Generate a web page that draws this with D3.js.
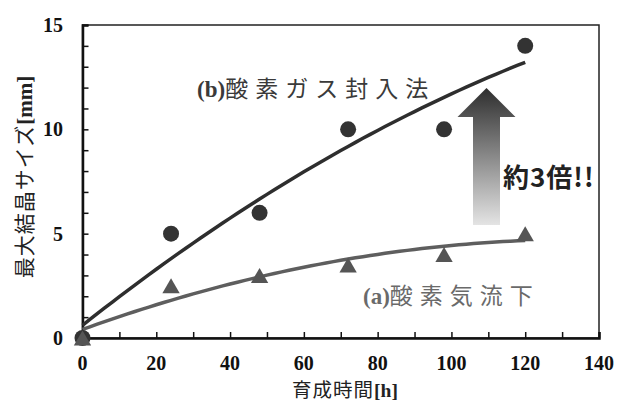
<!DOCTYPE html>
<html>
<head>
<meta charset="utf-8">
<script src="https://cdn.jsdelivr.net/npm/d3@7"></script>
<style>
  html, body { margin: 0; padding: 0; background: #fff; }
  svg { display: block; }
</style>
</head>
<body>
<svg id="chart" width="617" height="401"></svg>
<script>
// Growth time [h] and maximum crystal size [mm]
const hours = [0, 24, 48, 72, 98, 120];
const sizeGasSealed = [0, 5, 6, 10, 10, 14];     // (b) 酸素ガス封入法
const sizeOxygenFlow = [0, 2.5, 3, 3.5, 4, 5];   // (a) 酸素気流下
const xTicks = [0, 20, 40, 60, 80, 100, 120, 140];
const yTicks = [0, 5, 10, 15];

const svg = d3.select("#chart");
const margin = { left: 82.5, right: 18, top: 25, bottom: 63 };
const W = 617, H = 401;

const x = d3.scaleLinear().domain([0, 140]).range([margin.left, W - margin.right]);
const y = d3.scaleLinear().domain([0, 15]).range([H - margin.bottom, margin.top]);

const serif = "'Liberation Serif', 'DejaVu Serif', 'Noto Sans CJK JP', serif";
const cjk = "'Noto Sans CJK JP', 'Liberation Serif', serif";

// Least-squares quadratic trendline
function quadFit(xs, ys) {
  const n = xs.length;
  let s = [0, 0, 0, 0, 0], t = [0, 0, 0];
  for (let i = 0; i < n; i++) {
    for (let k = 0; k < 5; k++) s[k] += Math.pow(xs[i], k);
    for (let k = 0; k < 3; k++) t[k] += ys[i] * Math.pow(xs[i], k);
  }
  const M = [[s[0], s[1], s[2], t[0]], [s[1], s[2], s[3], t[1]], [s[2], s[3], s[4], t[2]]];
  for (let i = 0; i < 3; i++) {
    for (let j = i + 1; j < 3; j++) {
      const f = M[j][i] / M[i][i];
      for (let k = i; k < 4; k++) M[j][k] -= f * M[i][k];
    }
  }
  const c = [0, 0, 0];
  for (let i = 2; i >= 0; i--) {
    let v = M[i][3];
    for (let k = i + 1; k < 3; k++) v -= M[i][k] * c[k];
    c[i] = v / M[i][i];
  }
  return xv => c[0] + c[1] * xv + c[2] * xv * xv;
}

// Gradient for the comparison arrow
const defs = svg.append("defs");
const grad = defs.append("linearGradient").attr("id", "arrowGrad")
  .attr("x1", 0).attr("y1", 0).attr("x2", 0).attr("y2", 1);
grad.append("stop").attr("offset", "0%").attr("stop-color", "#2e2e2e");
grad.append("stop").attr("offset", "100%").attr("stop-color", "#e4e4e4");

// Frame
svg.append("rect")
  .attr("x", x(0)).attr("y", y(15))
  .attr("width", x(140) - x(0)).attr("height", y(0) - y(15))
  .attr("fill", "none").attr("stroke", "#222").attr("stroke-width", 1.5);

// Axes with inward minor ticks
const xAxis = svg.append("g").attr("transform", `translate(0,${y(0)})`)
  .call(d3.axisBottom(x).tickValues(d3.range(0, 141, 10)).tickSize(-6).tickFormat(""));
xAxis.select(".domain").attr("stroke-width", 2.5).attr("stroke", "#111");
xAxis.selectAll(".tick line").attr("stroke", "#111").attr("stroke-width", 1.5);

const yAxis = svg.append("g").attr("transform", `translate(${x(0)},0)`)
  .call(d3.axisLeft(y).tickValues(d3.range(0, 16, 1)).tickSize(-6).tickFormat(""));
yAxis.select(".domain").attr("stroke-width", 2.5).attr("stroke", "#111");
yAxis.selectAll(".tick line").attr("stroke", "#111").attr("stroke-width", 1.5);

// Tick labels
svg.append("g").selectAll("text").data(xTicks).join("text")
  .attr("x", d => x(d)).attr("y", 370)
  .attr("text-anchor", "middle")
  .attr("font-family", serif).attr("font-weight", "bold").attr("font-size", 20)
  .attr("fill", "#111")
  .text(d => d);

svg.append("g").selectAll("text").data(yTicks).join("text")
  .attr("x", 63).attr("y", d => y(d) + 7)
  .attr("text-anchor", "end")
  .attr("font-family", serif).attr("font-weight", "bold").attr("font-size", 20)
  .attr("fill", "#111")
  .text(d => d);

// Axis titles
const xt = svg.append("text")
  .attr("x", 345).attr("y", 396.5)
  .attr("text-anchor", "middle")
  .attr("font-size", 19.5).attr("fill", "#222");
xt.append("tspan").attr("font-family", cjk).attr("letter-spacing", 1).text("育成時間");
xt.append("tspan").attr("font-family", serif).attr("font-weight", "bold").text("[h]");

const yt = svg.append("text")
  .attr("transform", `translate(32,177) rotate(-90)`)
  .attr("text-anchor", "middle")
  .attr("font-size", 21).attr("fill", "#222");
yt.append("tspan").attr("font-family", cjk).attr("letter-spacing", 1).text("最大結晶サイズ");
yt.append("tspan").attr("font-family", serif).attr("font-weight", "bold").text("[mm]");

// Trendlines
const fitB = quadFit(hours, sizeGasSealed);
const fitA = quadFit(hours, sizeOxygenFlow);
const xs = d3.range(0, 120.01, 2);
const line = f => d3.line().x(d => x(d)).y(d => y(f(d)))(xs);

svg.append("path").attr("d", line(fitA))
  .attr("fill", "none").attr("stroke", "#5e5e5e").attr("stroke-width", 3.5);
svg.append("path").attr("d", line(fitB))
  .attr("fill", "none").attr("stroke", "#2e2e2e").attr("stroke-width", 3.5);

// Markers
svg.append("g").selectAll("circle").data(hours).join("circle")
  .attr("cx", d => x(d)).attr("cy", (d, i) => y(sizeGasSealed[i]))
  .attr("r", 8).attr("fill", "#333");

svg.append("g").selectAll("path").data(hours).join("path")
  .attr("d", d3.symbol().type(d3.symbolTriangle).size(130))
  .attr("transform", (d, i) => `translate(${x(d)},${y(sizeOxygenFlow[i]) + 2.5})`)
  .attr("fill", "#555");

// Series labels
const lb = svg.append("text")
  .attr("x", 197).attr("y", 97)
  .attr("font-size", 23).attr("fill", "#3a3a3a");
lb.append("tspan").attr("font-family", serif).attr("font-weight", "bold").text("(b)");
lb.append("tspan").attr("font-family", cjk).attr("letter-spacing", 7).text("酸素ガス封入法");

const la = svg.append("text")
  .attr("x", 363).attr("y", 304)
  .attr("font-size", 23).attr("fill", "#6a6a6a");
la.append("tspan").attr("font-family", serif).attr("font-weight", "bold").text("(a)");
la.append("tspan").attr("font-family", cjk).attr("letter-spacing", 7).text("酸素気流下");

// Comparison arrow
const ax = 486.5;
svg.append("path")
  .attr("d", `M${ax},88 L${ax + 29},117 L${ax + 13.5},117 L${ax + 13.5},225 L${ax - 13.5},225 L${ax - 13.5},117 L${ax - 29},117 Z`)
  .attr("fill", "url(#arrowGrad)");

svg.append("text")
  .attr("x", 503).attr("y", 187)
  .attr("font-family", "'Noto Sans CJK JP', sans-serif").attr("font-weight", "bold")
  .attr("font-size", 26).attr("letter-spacing", 1).attr("fill", "#222")
  .text("約3倍!!");
</script>
</body>
</html>
